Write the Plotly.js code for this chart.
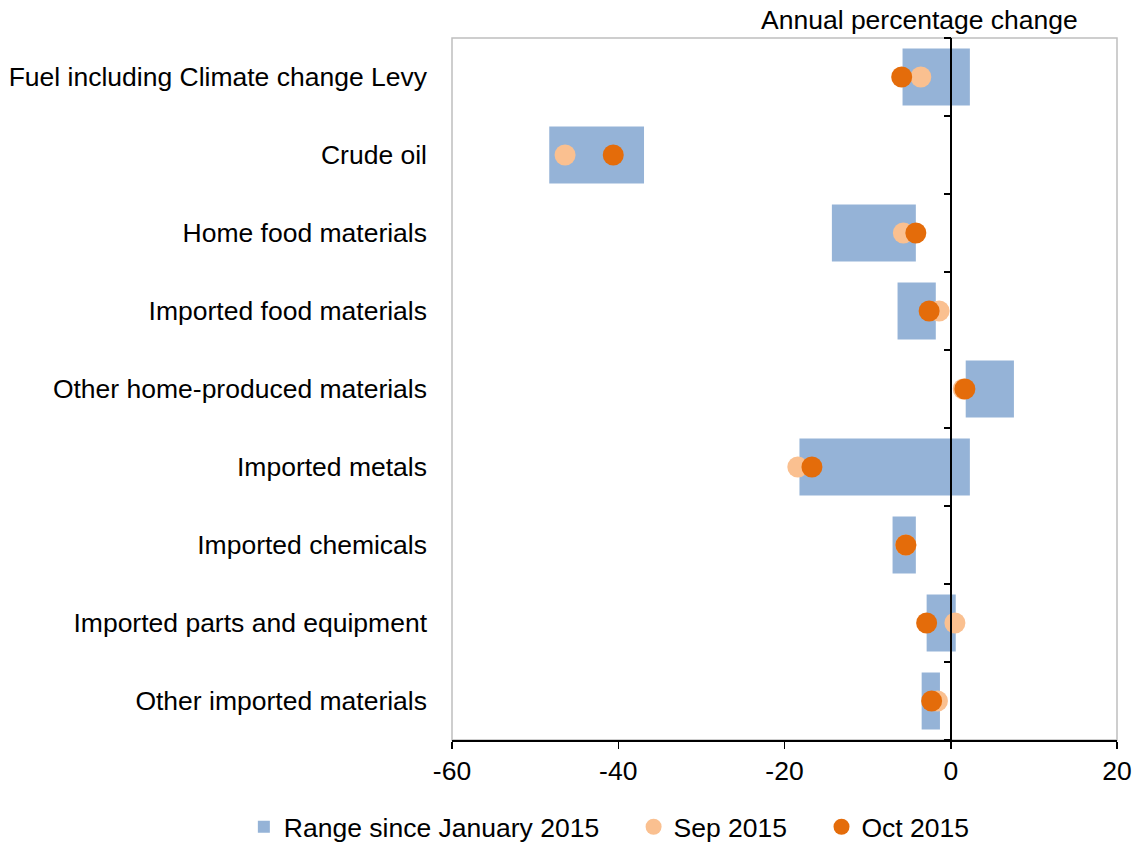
<!DOCTYPE html>
<html>
<head>
<meta charset="utf-8">
<script src="https://cdn.plot.ly/plotly-3.0.1.min.js"></script>
<style>
  html, body { margin: 0; padding: 0; background: #ffffff; }
  #chart { width: 1132px; height: 844px; }
</style>
</head>
<body>
<div id="chart"></div>
<script>
const categories = [
  "Fuel including Climate change Levy",
  "Crude oil",
  "Home food materials",
  "Imported food materials",
  "Other home-produced materials",
  "Imported metals",
  "Imported chemicals",
  "Imported parts and equipment",
  "Other imported materials"
];
const rangeLow  = [-5.8, -48.3, -14.3, -6.4, 1.8, -18.2, -7.0, -2.9, -3.5];
const rangeHigh = [ 2.3, -36.9,  -4.2, -1.8, 7.6,   2.3, -4.2,  0.6, -1.3];
const sep2015   = [-3.6, -46.4,  -5.7, -1.4, 1.5, -18.4, -5.4,  0.5, -1.6];
const oct2015   = [-5.9, -40.6,  -4.2, -2.6, 1.7, -16.7, -5.4, -2.9, -2.3];
const xTicks = [-60, -40, -20, 0, 20];
const seriesNames = ["Range since January 2015", "Sep 2015", "Oct 2015"];

const FONT = '"Liberation Sans", Arial, sans-serif';
const FS = 26.5;
const n = categories.length;
const pad = (s, k) => s + '\u00A0'.repeat(k);

const traces = [
  {
    type: 'bar', orientation: 'h', name: pad(seriesNames[0], 4),
    y: categories, base: rangeLow,
    x: rangeHigh.map((h, i) => h - rangeLow[i]),
    marker: { color: '#95B3D7', line: { width: 0 } },
    hoverinfo: 'skip'
  },
  {
    type: 'scatter', mode: 'markers', name: pad(seriesNames[1], 4),
    y: categories, x: sep2015,
    marker: { color: '#FAC090', size: 21, symbol: 'circle', line: { width: 0 } },
    hoverinfo: 'skip'
  },
  {
    type: 'scatter', mode: 'markers', name: seriesNames[2],
    y: categories, x: oct2015,
    marker: { color: '#E46C0A', size: 21, symbol: 'circle', line: { width: 0 } },
    hoverinfo: 'skip'
  },
  {
    type: 'scatter', mode: 'markers', x: [], y: [], yaxis: 'y2',
    showlegend: false, hoverinfo: 'skip'
  }
];

const boundaries = [];
for (let i = 0; i <= n; i++) boundaries.push(i - 0.5);

const layout = {
  width: 1132, height: 844,
  margin: { l: 452, r: 15, t: 38, b: 104, autoexpand: false },
  paper_bgcolor: '#ffffff', plot_bgcolor: '#ffffff',
  font: { family: FONT, size: FS, color: '#000000' },
  showlegend: true,
  bargap: 0.27,
  xaxis: {
    range: [-60, 20], tickvals: xTicks, ticktext: xTicks.map(String),
    showgrid: false, zeroline: false,
    showline: true, linecolor: '#000000', linewidth: 1.5,
    ticks: 'outside', ticklen: 7, tickwidth: 1.5, tickcolor: '#000000',
    tickfont: { family: FONT, size: FS, color: '#000000' },
    fixedrange: true
  },
  yaxis: {
    type: 'category', categoryorder: 'array', categoryarray: categories,
    range: [n - 0.5, -0.5],
    showgrid: false, zeroline: false, showline: false,
    ticks: '', ticklabelstandoff: 24,
    tickfont: { family: FONT, size: FS, color: '#000000' },
    fixedrange: true
  },
  yaxis2: {
    overlaying: 'y', anchor: 'free', position: 0.75, side: 'left',
    range: [n - 0.5, -0.5],
    tickvals: boundaries, showticklabels: false,
    ticks: 'outside', ticklen: 7, tickwidth: 1.5, tickcolor: '#000000',
    showline: true, linecolor: '#000000', linewidth: 1.5,
    showgrid: false, zeroline: false, fixedrange: true
  },
  shapes: [
    { type: 'rect', xref: 'paper', yref: 'paper', x0: 0, x1: 1, y0: 0, y1: 1,
      line: { color: '#BFBFBF', width: 1.5 }, fillcolor: 'rgba(0,0,0,0)', layer: 'below' },
    { type: 'line', xref: 'x', yref: 'paper', x0: 0, x1: 0, y0: 0, y1: 1,
      line: { color: '#000000', width: 1.5 }, layer: 'above' }
  ],
  annotations: [
    { text: 'Annual percentage change', xref: 'paper', yref: 'paper',
      x: 0.944, y: 1, yshift: 18, xanchor: 'right', yanchor: 'middle', showarrow: false,
      font: { family: FONT, size: FS, color: '#000000' } }
  ],
  legend: {
    orientation: 'h', x: -0.313, xanchor: 'left', y: -0.124, yanchor: 'middle',
    font: { family: FONT, size: FS, color: '#000000' },
    itemwidth: 30, traceorder: 'normal',
    bgcolor: 'rgba(0,0,0,0)'
  }
};

Plotly.newPlot('chart', traces, layout, { displayModeBar: false, staticPlot: true });
</script>
</body>
</html>
